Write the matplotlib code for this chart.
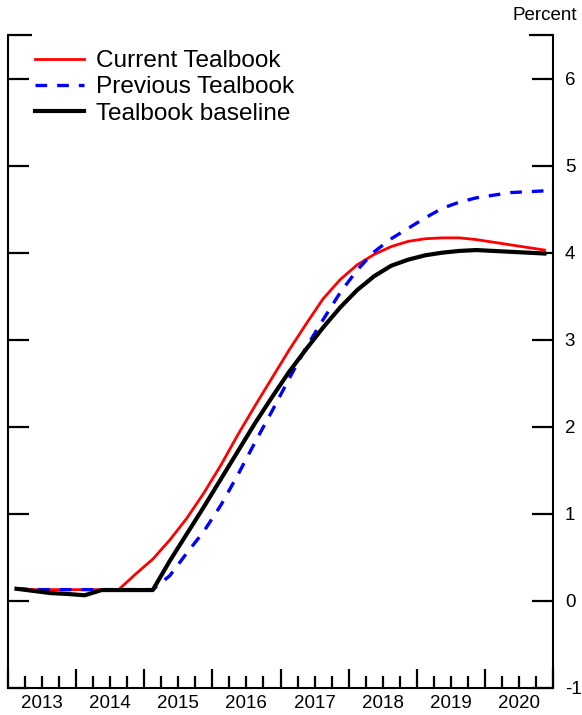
import matplotlib
matplotlib.use("Agg")
import matplotlib.pyplot as plt
import numpy as np

plt.rcParams['font.family'] = ['Liberation Sans', 'DejaVu Sans']

# Quarterly data, 2013Q1 .. 2020Q4 (plotted at mid-quarter)
quarters = [2013 + i * 0.25 + 0.125 for i in range(32)]

current_tealbook = [0.14, 0.13, 0.13, 0.13, 0.13, 0.13, 0.13, 0.31,
                    0.48, 0.70, 0.95, 1.24, 1.56, 1.91, 2.24, 2.56,
                    2.88, 3.18, 3.47, 3.69, 3.86, 3.98, 4.07, 4.13,
                    4.16, 4.17, 4.17, 4.15, 4.12, 4.09, 4.06, 4.03]

previous_tealbook = [0.14, 0.13, 0.13, 0.13, 0.13, 0.13, 0.13, 0.13,
                     0.13, 0.29, 0.55, 0.80, 1.10, 1.45, 1.82, 2.18,
                     2.55, 2.91, 3.23, 3.54, 3.80, 4.01, 4.16, 4.28,
                     4.40, 4.51, 4.58, 4.63, 4.66, 4.69, 4.70, 4.71]

tealbook_baseline = [0.14, 0.115, 0.09, 0.08, 0.065, 0.125, 0.125, 0.125,
                     0.125, 0.46, 0.77, 1.08, 1.40, 1.72, 2.04, 2.34,
                     2.63, 2.89, 3.14, 3.37, 3.57, 3.73, 3.85, 3.92,
                     3.97, 4.00, 4.02, 4.03, 4.02, 4.01, 4.00, 3.99]

years = list(range(2013, 2021))
year_labels = [str(y) for y in years]
y_ticks = [-1, 0, 1, 2, 3, 4, 5, 6]

fig = plt.figure(figsize=(5.82, 7.15), dpi=100)
ax = fig.add_axes([8 / 582, 1 - 688 / 715, 545 / 582, 653 / 715])

ax.plot(quarters, current_tealbook, color='#ff0000', lw=2.0, label='Current Tealbook', zorder=3)
ax.plot(quarters, previous_tealbook, color='#0000ff', lw=2.4, dashes=(3.5, 3),
        label='Previous Tealbook', zorder=4)
ax.plot(quarters, tealbook_baseline, color='black', lw=3.0, label='Tealbook baseline', zorder=5)

ax.set_xlim(2013, 2021)
ax.set_ylim(-1, 6.5)

# spines
ax.spines['top'].set_visible(False)
for s in ['left', 'right', 'bottom']:
    ax.spines[s].set_linewidth(1.5)

# top bracket corners
seg = 24 / 545
ax.plot([0, seg], [1, 1], transform=ax.transAxes, color='black', lw=1.6, clip_on=False,
        solid_capstyle='butt')
ax.plot([1 - seg, 1], [1, 1], transform=ax.transAxes, color='black', lw=1.6, clip_on=False,
        solid_capstyle='butt')

# x ticks
ax.set_xticks(years + [2021])
ax.set_xticks([y + q for y in years for q in (0.25, 0.5, 0.75)], minor=True)
ax.tick_params(axis='x', which='major', direction='in', length=14, width=1.6,
               labelbottom=False, top=False)
ax.tick_params(axis='x', which='minor', direction='in', length=9, width=1.6, top=False)
for y, lab in zip(years, year_labels):
    ax.text(y + 0.5, -0.011, lab, transform=ax.get_xaxis_transform(),
            ha='center', va='top', fontsize=13.5)

# y ticks
ax.set_yticks(y_ticks)
ax.set_yticklabels([str(v) for v in y_ticks])
ax.tick_params(axis='y', which='major', direction='in', length=15, width=1.6,
               left=True, right=True, labelleft=False, labelright=True,
               labelsize=13.5, pad=8.5)

fig.text(577 / 582, 1 - 16 / 715, 'Percent', ha='right', va='center', fontsize=13.5)

leg = ax.legend(loc='upper left', bbox_to_anchor=(27 / 545, 1 - 15 / 653),
                frameon=False, fontsize=17.6, handlelength=2.0, handletextpad=0.5,
                labelspacing=0.17, borderpad=0, borderaxespad=0)

fig.savefig('out.png', dpi=100)
